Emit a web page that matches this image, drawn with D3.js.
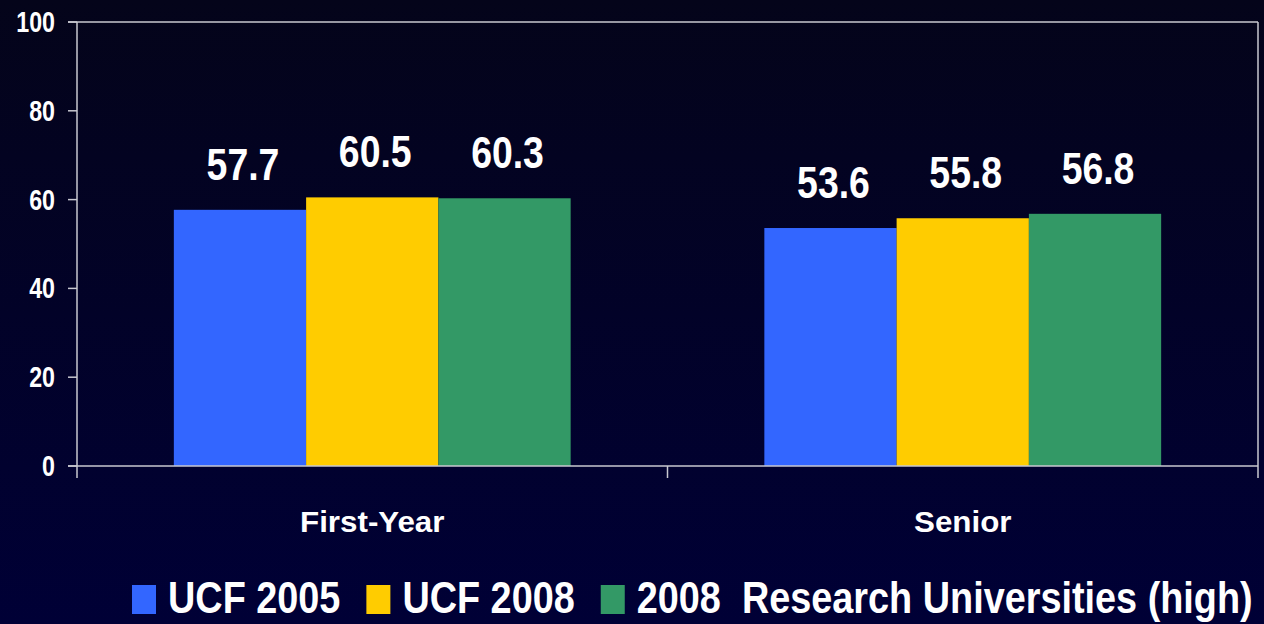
<!DOCTYPE html>
<html>
<head>
<meta charset="utf-8">
<script src="https://cdn.jsdelivr.net/npm/d3@7"></script>
<style>
  html, body { margin: 0; padding: 0; background: #000022; }
  svg { display: block; }
  text { font-family: "Liberation Sans", Arial, sans-serif; font-weight: bold; fill: #fff; }
</style>
</head>
<body>
<div id="vis"></div>
<script>
    var categories = ["First-Year", "Senior"],
        seriesNames = ["UCF 2005", "UCF 2008", "2008  Research Universities (high)"],
        ucf2005 = [57.7, 53.6],
        ucf2008 = [60.5, 55.8],
        research2008 = [60.3, 56.8],
        yTicks = [0, 20, 40, 60, 80, 100],
        colors = ["#3366ff", "#ffcc00", "#339966"];

    // note: "top" is taken by window.top, so plot edges get their own names
    var W = 1264, H = 624,
        plotLeft = 77, plotRight = 1258, plotTop = 22, plotBottom = 466;

    var svg = d3.select("#vis").append("svg").attr("width", W).attr("height", H);

    // background, slightly lighter navy towards the bottom
    var grad = svg.append("defs").append("linearGradient").attr("id", "bg")
        .attr("x1", 0).attr("y1", 0).attr("x2", 0).attr("y2", 1);
    grad.append("stop").attr("offset", "0%").attr("stop-color", "#04041a");
    grad.append("stop").attr("offset", "100%").attr("stop-color", "#000036");
    svg.append("rect").attr("width", W).attr("height", H).attr("fill", "url(#bg)");

    var x0 = d3.scaleBand().domain(categories).range([plotLeft, plotRight]);
    var x1 = d3.scaleBand().domain(d3.range(3))
        .range([x0.bandwidth() * 0.164, x0.bandwidth() * 0.836]);
    var y = d3.scaleLinear().domain([0, 100]).range([plotBottom, plotTop]);

    var rows = categories.map(function (c, i) {
        return [ucf2005[i], ucf2008[i], research2008[i]];
    });

    // frame lines: top gridline and right edge
    var lineCol = "#c8c8d0";
    svg.append("line").attr("x1", plotLeft - 9).attr("x2", plotRight)
        .attr("y1", y(100)).attr("y2", y(100)).attr("stroke", lineCol).attr("stroke-width", 1.5);
    svg.append("line").attr("x1", plotRight).attr("x2", plotRight)
        .attr("y1", y(100)).attr("y2", y(0)).attr("stroke", lineCol).attr("stroke-width", 1.5);

    // bars
    var groups = svg.selectAll("g.cat").data(rows).enter().append("g")
        .attr("class", "cat")
        .attr("transform", function (d, i) { return "translate(" + x0(categories[i]) + ",0)"; });

    groups.selectAll("rect").data(function (d) { return d; }).enter().append("rect")
        .attr("x", function (d, j) { return x1(j); })
        .attr("width", x1.bandwidth())
        .attr("y", function (d) { return y(d); })
        .attr("height", function (d) { return y(0) - y(d); })
        .attr("fill", function (d, j) { return colors[j]; });

    // value labels (narrow, tall type like the original)
    groups.selectAll("g.lbl").data(function (d) { return d; }).enter().append("g")
        .attr("class", "lbl")
        .attr("transform", function (d, j) {
            return "translate(" + (x1(j) + x1.bandwidth() / 2 + 3) + "," + (y(d) - 30) + ") scale(0.85,1)";
        })
        .append("text").attr("text-anchor", "middle").attr("font-size", 44)
        .text(function (d) { return d.toFixed(1); });

    // y axis
    svg.append("line").attr("x1", plotLeft).attr("x2", plotLeft)
        .attr("y1", y(100)).attr("y2", y(0) + 12).attr("stroke", lineCol).attr("stroke-width", 1.5);
    var yt = svg.selectAll("g.ytick").data(yTicks).enter().append("g").attr("class", "ytick");
    yt.append("line").attr("x1", plotLeft - 9).attr("x2", plotLeft)
        .attr("y1", function (d) { return y(d); }).attr("y2", function (d) { return y(d); })
        .attr("stroke", lineCol).attr("stroke-width", 1.5);
    yt.append("g")
        .attr("transform", function (d) { return "translate(55," + (y(d) + 10) + ") scale(0.8,1)"; })
        .append("text").attr("text-anchor", "end").attr("font-size", 29)
        .text(function (d) { return d; });

    // x axis
    svg.append("line").attr("x1", plotLeft - 9).attr("x2", plotRight)
        .attr("y1", y(0)).attr("y2", y(0)).attr("stroke", lineCol).attr("stroke-width", 1.5);
    svg.selectAll("line.xtick").data([plotLeft + x0.bandwidth(), plotRight]).enter().append("line")
        .attr("class", "xtick")
        .attr("x1", function (d) { return d; }).attr("x2", function (d) { return d; })
        .attr("y1", y(0)).attr("y2", y(0) + 12)
        .attr("stroke", lineCol).attr("stroke-width", 1.5);

    svg.selectAll("g.xlbl").data(categories).enter().append("g")
        .attr("class", "xlbl")
        .attr("transform", function (d) { return "translate(" + (x0(d) + x0.bandwidth() / 2) + ",532) scale(1.08,1)"; })
        .append("text").attr("text-anchor", "middle").attr("font-size", 29)
        .text(function (d) { return d; });

    // legend
    var lx = 132;
    seriesNames.forEach(function (name, i) {
        svg.append("rect").attr("x", lx).attr("y", 585).attr("width", 24).attr("height", 29)
            .attr("fill", colors[i]);
        var g = svg.append("g").attr("transform", "translate(" + (lx + 36) + ",613) scale(0.86,1)");
        var t = g.append("text").attr("font-size", 44).attr("xml:space", "preserve")
            .style("white-space", "pre").text(name);
        lx += 36 + t.node().getComputedTextLength() * 0.86 + 26;
    });
</script>
</body>
</html>
